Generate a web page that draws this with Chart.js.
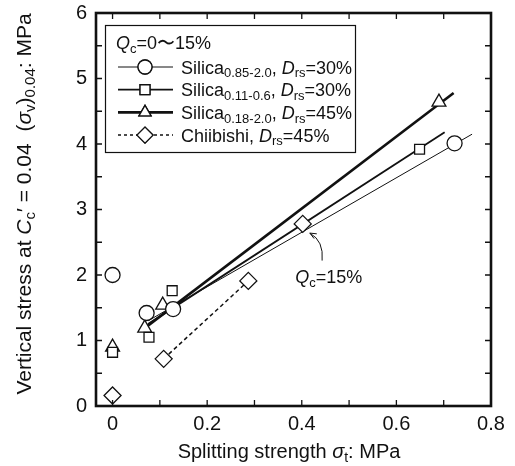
<!DOCTYPE html>
<html><head><meta charset="utf-8">
<script src="https://cdn.jsdelivr.net/npm/chart.js@4/dist/chart.umd.min.js"></script>
<style>html,body{margin:0;padding:0;background:#fff}#wrap{width:515px;height:466px}</style>
</head><body><div id="wrap"><canvas id="c" width="515" height="466"></canvas></div>
<script>
// ---- data ----
const xTicks = [0, 0.2, 0.4, 0.6, 0.8];
const yTicks = [0, 1, 2, 3, 4, 5, 6];
const seriesNames = ['Silica0.85-2.0', 'Silica0.11-0.6', 'Silica0.18-2.0', 'Chiibishi'];
const circleX = [0, 0.072, 0.128, 0.723];
const circleY = [2.0, 1.42, 1.48, 4.01];
const squareX = [0, 0.077, 0.126, 0.649];
const squareY = [0.82, 1.05, 1.76, 3.92];
const triX = [0, 0.068, 0.106, 0.69];
const triY = [0.9, 1.19, 1.54, 4.64];
const diaX = [0, 0.108, 0.287, 0.402];
const diaY = [0.16, 0.72, 1.91, 2.78];
// fitted / connecting lines
const circleFitX = [0.075, 0.76];
const circleFitY = [1.3, 4.15];
const squareFitX = [0.075, 0.702];
const squareFitY = [1.25, 4.18];
const triFitX = [0.07, 0.721];
const triFitY = [1.2, 4.78];
const diaLineX = [0.108, 0.287];
const diaLineY = [0.72, 1.91];
// annotation Qc=15% (label position and arrow in data units)
const annotLabel = {x: 0.457, y: 1.97};
const annotArrowX = [0.443, 0.447, 0.417];
const annotArrowY = [2.22, 2.52, 2.64];

const FONT = '"Liberation Sans", Arial, Helvetica, sans-serif';
const pts = (xs, ys) => xs.map((x, i) => ({x, y: ys[i]}));

function drawRich(ctx, segs, x, y, size, align) {
  const subSize = Math.round(size * 0.7);
  let w = 0;
  const fontOf = s => (s.it ? 'italic ' : '') + (s.sub ? subSize : size) + 'px ' + FONT;
  segs.forEach(s => { ctx.font = fontOf(s); s.w = ctx.measureText(s.t).width; w += s.w; });
  let cx = align === 'center' ? x - w / 2 : x;
  ctx.textAlign = 'left';
  ctx.textBaseline = 'alphabetic';
  segs.forEach(s => {
    ctx.font = fontOf(s);
    ctx.fillText(s.t, cx, y + (s.sub ? size * 0.2 : 0));
    cx += s.w;
  });
  return w;
}

const frame = {
  id: 'frame',
  afterDatasetsDraw(chart) {
    const ctx = chart.ctx, a = chart.chartArea;
    const xs = chart.scales.x, ys = chart.scales.y;
    ctx.save();
    ctx.strokeStyle = '#111';
    ctx.fillStyle = '#111';
    // ticks (inward, all four sides)
    ctx.lineWidth = 1.3;
    for (let i = 0; i <= 8; i++) {
      const px = xs.getPixelForValue(i / 10);
      ctx.beginPath();
      ctx.moveTo(px, a.bottom); ctx.lineTo(px, a.bottom - 6);
      ctx.moveTo(px, a.top); ctx.lineTo(px, a.top + 6);
      ctx.stroke();
    }
    for (let i = 0; i <= 12; i++) {
      const py = ys.getPixelForValue(i / 2);
      ctx.beginPath();
      ctx.moveTo(a.left, py); ctx.lineTo(a.left + 6, py);
      ctx.moveTo(a.right, py); ctx.lineTo(a.right - 6, py);
      ctx.stroke();
    }
    // border
    ctx.lineWidth = 2.6;
    ctx.strokeRect(a.left, a.top, a.right - a.left, a.bottom - a.top);

    // annotation Qc=15%
    ctx.lineWidth = 1;
    const p0 = {x: xs.getPixelForValue(annotArrowX[0]), y: ys.getPixelForValue(annotArrowY[0])};
    const pc = {x: xs.getPixelForValue(annotArrowX[1]), y: ys.getPixelForValue(annotArrowY[1])};
    const p1 = {x: xs.getPixelForValue(annotArrowX[2]), y: ys.getPixelForValue(annotArrowY[2])};
    ctx.beginPath(); ctx.moveTo(p0.x, p0.y); ctx.quadraticCurveTo(pc.x, pc.y, p1.x, p1.y); ctx.stroke();
    const ang = Math.atan2(p1.y - pc.y, p1.x - pc.x);
    ctx.beginPath();
    ctx.moveTo(p1.x - 7 * Math.cos(ang - 0.4), p1.y - 7 * Math.sin(ang - 0.4));
    ctx.lineTo(p1.x, p1.y);
    ctx.lineTo(p1.x - 7 * Math.cos(ang + 0.4), p1.y - 7 * Math.sin(ang + 0.4));
    ctx.stroke();
    drawRich(ctx, [{t: 'Q', it: true}, {t: 'c', sub: true}, {t: '=15%'}],
      xs.getPixelForValue(annotLabel.x), ys.getPixelForValue(annotLabel.y) + 6, 18, 'center');

    // legend
    ctx.lineWidth = 1.2;
    ctx.strokeRect(105.5, 25.5, 250, 127);
    drawRich(ctx, [{t: 'Q', it: true}, {t: 'c', sub: true}, {t: '=0〜15%'}], 116, 49, 18, 'left');
    const rows = [
      {style: 'circle', lw: 1, dash: [], lab: '0.85-2.0', d: '30%'},
      {style: 'rect', lw: 1.8, dash: [], lab: '0.11-0.6', d: '30%'},
      {style: 'triangle', lw: 2.6, dash: [], lab: '0.18-2.0', d: '45%'},
      {style: 'rectRot', lw: 1.5, dash: [3, 3], lab: null, d: '45%'}
    ];
    rows.forEach((r, i) => {
      const cy = 67 + i * 22.7;
      ctx.save();
      ctx.lineWidth = r.lw; ctx.setLineDash(r.dash);
      ctx.beginPath(); ctx.moveTo(118, cy); ctx.lineTo(173, cy); ctx.stroke();
      ctx.restore();
      ctx.save();
      ctx.fillStyle = '#fff'; ctx.strokeStyle = '#111'; ctx.lineWidth = 1.3;
      Chart.helpers.drawPoint(ctx, {pointStyle: r.style, radius: r.style === 'rectRot' ? 8 : 7, rotation: 0, borderWidth: 1.3}, 145, cy);
      ctx.fill(); ctx.stroke();
      ctx.restore();
      const segs = r.lab ? [{t: 'Silica'}, {t: r.lab, sub: true}, {t: ', '}] : [{t: 'Chiibishi, '}];
      segs.push({t: 'D', it: true}, {t: 'rs', sub: true}, {t: '=' + r.d});
      drawRich(ctx, segs, 181, cy + 6.5, 18, 'left');
    });

    // axis titles
    drawRich(ctx, [{t: 'Splitting strength '}, {t: 'σ', it: true}, {t: 't', sub: true}, {t: ': MPa'}], 289, 458, 20, 'center');
    ctx.save();
    ctx.translate(31, 204);
    ctx.rotate(-Math.PI / 2);
    drawRich(ctx, [{t: 'Vertical stress at '}, {t: 'C', it: true}, {t: 'c', sub: true}, {t: '′ = 0.04  ('},
      {t: 'σ', it: true}, {t: 'v', sub: true}, {t: ')'}, {t: '0.04', sub: true}, {t: ': MPa'}], 0, 0, 21, 'center');
    ctx.restore();
    ctx.restore();
  }
};

const lineDs = (xs, ys, w, dash) => ({
  type: 'line', data: pts(xs, ys), borderColor: '#111', borderWidth: w, borderDash: dash || [],
  pointRadius: 0, fill: false, showLine: true, order: 2
});
const ptDs = (xs, ys, style, r) => ({
  type: 'scatter', data: pts(xs, ys), pointStyle: style, pointRadius: r, pointHoverRadius: r,
  backgroundColor: '#fff', borderColor: '#111', pointBorderWidth: 1.3, borderWidth: 1.3, order: 1
});
const noPad = s => { s.paddingTop = 0; s.paddingBottom = 0; s.paddingLeft = 0; s.paddingRight = 0; };

new Chart(document.getElementById('c'), {
  data: {
    datasets: [
      lineDs(circleFitX, circleFitY, 1),
      lineDs(squareFitX, squareFitY, 1.8),
      lineDs(triFitX, triFitY, 2.6),
      lineDs(diaLineX, diaLineY, 1.5, [4, 3]),
      Object.assign(ptDs(circleX, circleY, 'circle', 7.5), {label: seriesNames[0]}),
      Object.assign(ptDs(squareX, squareY, 'rect', 7), {label: seriesNames[1]}),
      Object.assign(ptDs(triX, triY, 'triangle', 8), {label: seriesNames[2]}),
      Object.assign(ptDs(diaX, diaY, 'rectRot', 8.5), {label: seriesNames[3]})
    ]
  },
  options: {
    responsive: false, animation: false, events: [],
    layout: {padding: {top: 13, right: 24, left: 0, bottom: 0}},
    plugins: {legend: {display: false}, tooltip: {enabled: false}},
    scales: {
      x: {
        type: 'linear', min: -0.035, max: 0.8,
        grid: {display: false, drawTicks: false}, border: {display: false},
        afterBuildTicks: s => { s.ticks = xTicks.map(v => ({value: v})); },
        afterFit: s => { s.height = 60; noPad(s); },
        ticks: {color: '#111', font: {family: FONT, size: 20}, padding: 6, maxRotation: 0,
          callback: v => v === 0 ? '0' : v.toFixed(1)}
      },
      y: {
        type: 'linear', min: 0, max: 6,
        grid: {display: false, drawTicks: false}, border: {display: false},
        afterBuildTicks: s => { s.ticks = yTicks.map(v => ({value: v})); },
        afterFit: s => { s.width = 96; noPad(s); },
        ticks: {color: '#111', font: {family: FONT, size: 20}, padding: 9}
      }
    }
  },
  plugins: [frame]
});
</script></body></html>
